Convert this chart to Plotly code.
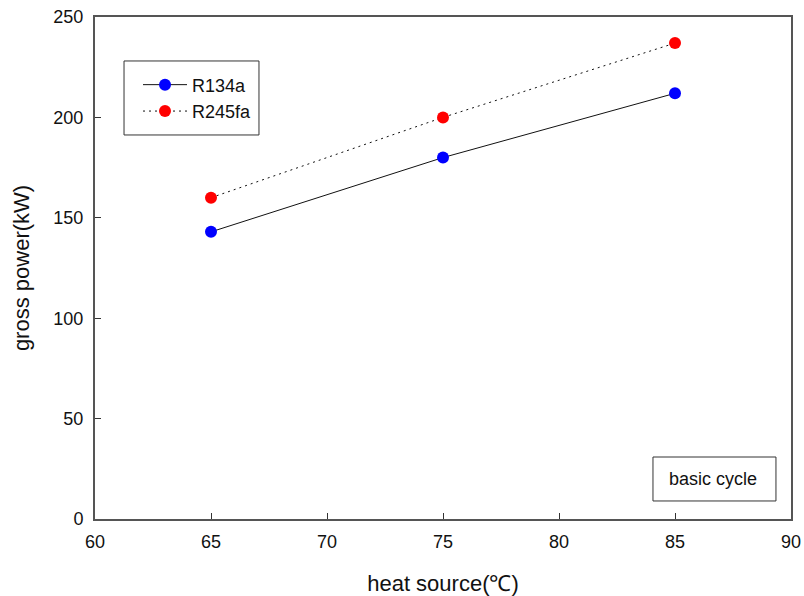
import plotly.graph_objects as go

heat_source = [65, 75, 85]
r134a = [143, 180, 212]
r245fa = [160, 200, 237]
x_ticks = [60, 65, 70, 75, 80, 85, 90]
y_ticks = [0, 50, 100, 150, 200, 250]

font_family = "Liberation Sans, Arial, sans-serif"
text_color = "#111111"

fig = go.Figure()
fig.add_trace(go.Scatter(
    x=heat_source, y=r134a, name="R134a", mode="lines+markers",
    line=dict(color="#111111", width=1, dash="solid"),
    marker=dict(color="#0000ff", size=12),
))
fig.add_trace(go.Scatter(
    x=heat_source, y=r245fa, name="R245fa", mode="lines+markers",
    line=dict(color="#111111", width=1, dash="2px,4px"),
    marker=dict(color="#ff0000", size=12),
))

axis_common = dict(
    showline=True, linecolor="#555555", linewidth=2, mirror=True,
    ticks="inside", ticklen=6, tickcolor="#333333", tickwidth=1,
    showgrid=False, zeroline=False, automargin=False,
    tickfont=dict(family=font_family, size=18, color=text_color),
)

fig.update_layout(
    width=804, height=596,
    margin=dict(l=95, r=13, t=17, b=77),
    paper_bgcolor="white", plot_bgcolor="white",
    font=dict(family=font_family, color=text_color),
    xaxis=dict(range=[60, 90], tickvals=x_ticks, ticklabelstandoff=5,
               title=dict(text="heat source(℃)", font=dict(size=22), standoff=25),
               **axis_common),
    yaxis=dict(range=[0, 250], tickvals=y_ticks, ticklabelstandoff=6,
               title=dict(text="gross power(kW)", font=dict(size=22), standoff=18),
               **axis_common),
    legend=dict(x=0.0618, y=0.9015, xanchor="left", yanchor="top",
                borderwidth=0, bgcolor="rgba(0,0,0,0)",
                font=dict(size=18, family=font_family, color=text_color),
                tracegroupgap=0, itemwidth=44),
    showlegend=True,
    shapes=[
        dict(type="rect", xref="paper", yref="paper",
             x0=0.0417, x1=0.2356, y0=0.765, y1=0.9124,
             line=dict(color="#333333", width=1), fillcolor="white", layer="below"),
        dict(type="rect", xref="paper", yref="paper",
             x0=0.8017, x1=0.9784, y0=0.0359, y1=0.1235,
             line=dict(color="#333333", width=1), fillcolor="white", layer="below"),
    ],
    annotations=[dict(
        x=0.888, y=0.0797, xref="paper", yref="paper",
        xanchor="center", yanchor="middle",
        text="basic cycle", showarrow=False,
        font=dict(size=18, family=font_family, color=text_color),
    )],
)

fig.write_html("out.html")
